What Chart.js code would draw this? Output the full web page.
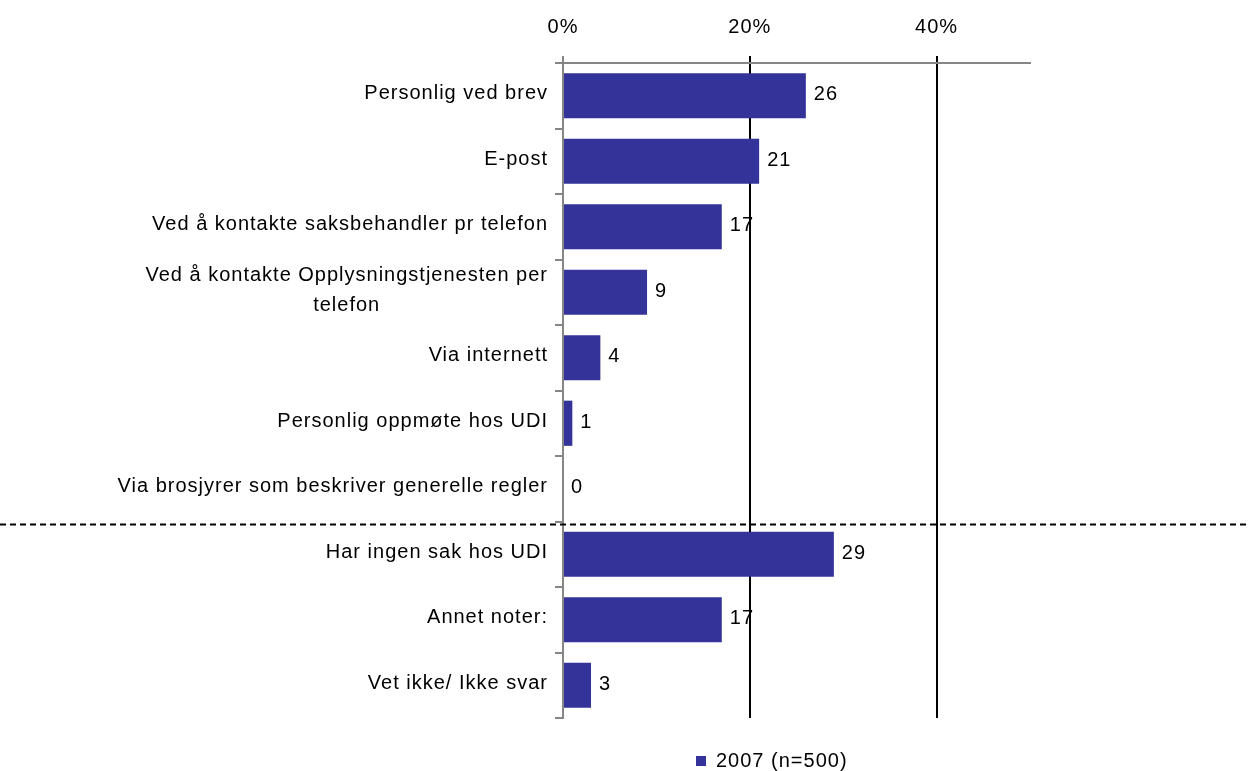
<!DOCTYPE html>
<html><head><meta charset="utf-8">
<script src="https://cdn.jsdelivr.net/npm/chart.js@4.4.0/dist/chart.umd.min.js"></script>
<style>html,body{margin:0;padding:0;background:#fff;} canvas{display:block;}</style>
</head><body>
<canvas id="c" width="1250" height="771"></canvas>
<script>
const categories = [
  'Personlig ved brev',
  'E-post',
  'Ved å kontakte saksbehandler pr telefon',
  ['Ved å kontakte Opplysningstjenesten per', 'telefon'],
  'Via internett',
  'Personlig oppmøte hos UDI',
  'Via brosjyrer som beskriver generelle regler',
  'Har ingen sak hos UDI',
  'Annet noter:',
  'Vet ikke/ Ikke svar'
];
const values2007 = [26, 21, 17, 9, 4, 1, 0, 29, 17, 3];
const seriesLabel = '2007 (n=500)';
const xTickValues = [0, 20, 40];
const xMax = 50;
const separatorAfterIndex = 6;

const FAMILY = '"Liberation Sans", Arial, sans-serif';
const FONT = '20px ' + FAMILY;
const AXIS_GRAY = '#868686';
Chart.defaults.font.family = FAMILY;
Chart.defaults.font.size = 20;
Chart.defaults.color = '#000';

const decor = {
  id: 'decor',
  beforeUpdate(chart) { chart.ctx.letterSpacing = '1px'; },
  beforeDraw(chart) { chart.ctx.letterSpacing = '1px'; },
  afterLayout(chart) {
    const lg = chart.legend;
    if (!lg || !lg.lineWidths) return;
    const lw = lg.lineWidths[0];
    const startX = 696, midY = 761;
    lg.left = startX - 10;
    lg.right = startX + lw;
    lg.width = lg.right - lg.left;
    const h = lg.height;
    lg.top = midY - 20;
    lg.bottom = lg.top + h;
  },
  afterDatasetsDraw(chart) {
    const ctx = chart.ctx;
    const y = chart.scales.y;
    ctx.save();
    ctx.letterSpacing = '1px';
    ctx.font = FONT;
    ctx.fillStyle = '#000';
    ctx.textBaseline = 'middle';
    const right = y.right - 15;
    categories.forEach((lab, i) => {
      const lines = Array.isArray(lab) ? lab : [lab];
      const cy = y.getPixelForValue(i) - 2;
      const maxW = Math.max(...lines.map(l => ctx.measureText(l).width));
      const cx = right - maxW / 2;
      ctx.textAlign = 'center';
      lines.forEach((l, k) => {
        ctx.fillText(l, cx, cy + (k - (lines.length - 1) / 2) * 30);
      });
    });
    ctx.textAlign = 'left';
    const meta = chart.getDatasetMeta(0);
    meta.data.forEach((bar, i) => {
      ctx.fillText(String(values2007[i]), bar.x + 8, bar.y - 1);
    });
    const sy = (y.getPixelForValue(separatorAfterIndex) + y.getPixelForValue(separatorAfterIndex + 1)) / 2 + 3;
    ctx.strokeStyle = '#000';
    ctx.lineWidth = 2;
    ctx.setLineDash([6, 4]);
    ctx.beginPath();
    ctx.moveTo(0, sy);
    ctx.lineTo(chart.width, sy);
    ctx.stroke();
    ctx.restore();
  }
};

new Chart(document.getElementById('c'), {
  type: 'bar',
  data: {
    labels: categories,
    datasets: [{
      label: seriesLabel,
      data: values2007,
      backgroundColor: '#333399',
      borderWidth: 0,
      barPercentage: 0.69,
      categoryPercentage: 1
    }]
  },
  options: {
    indexAxis: 'y',
    responsive: false,
    animation: false,
    devicePixelRatio: 1,
    layout: { padding: { left: 0, top: 0, right: 220, bottom: 13 } },
    plugins: {
      legend: {
        position: 'bottom',
        labels: { boxWidth: 10, boxHeight: 10, color: '#000', font: { size: 20 }, padding: 10 }
      },
      tooltip: { enabled: false }
    },
    scales: {
      x: {
        position: 'top',
        min: 0,
        max: xMax,
        afterBuildTicks(s) { s.ticks = xTickValues.map(v => ({ value: v })); },
        afterFit(s) { s.height = 63; },
        ticks: { color: '#000', font: { size: 20 }, padding: 17, maxRotation: 0, callback: v => v + '%' },
        grid: {
          color: c => (c.tick && c.tick.value === 0) ? AXIS_GRAY : '#000',
          lineWidth: 2, tickLength: 7, drawTicks: true
        },
        border: { display: true, color: AXIS_GRAY, width: 2 }
      },
      y: {
        afterFit(s) { s.width = 563; },
        ticks: { display: false },
        grid: { offset: true, drawOnChartArea: false, drawTicks: true, tickLength: 8, color: AXIS_GRAY, lineWidth: 2 },
        border: { display: true, color: AXIS_GRAY, width: 2 }
      }
    }
  },
  plugins: [decor]
});
</script>
</body></html>
